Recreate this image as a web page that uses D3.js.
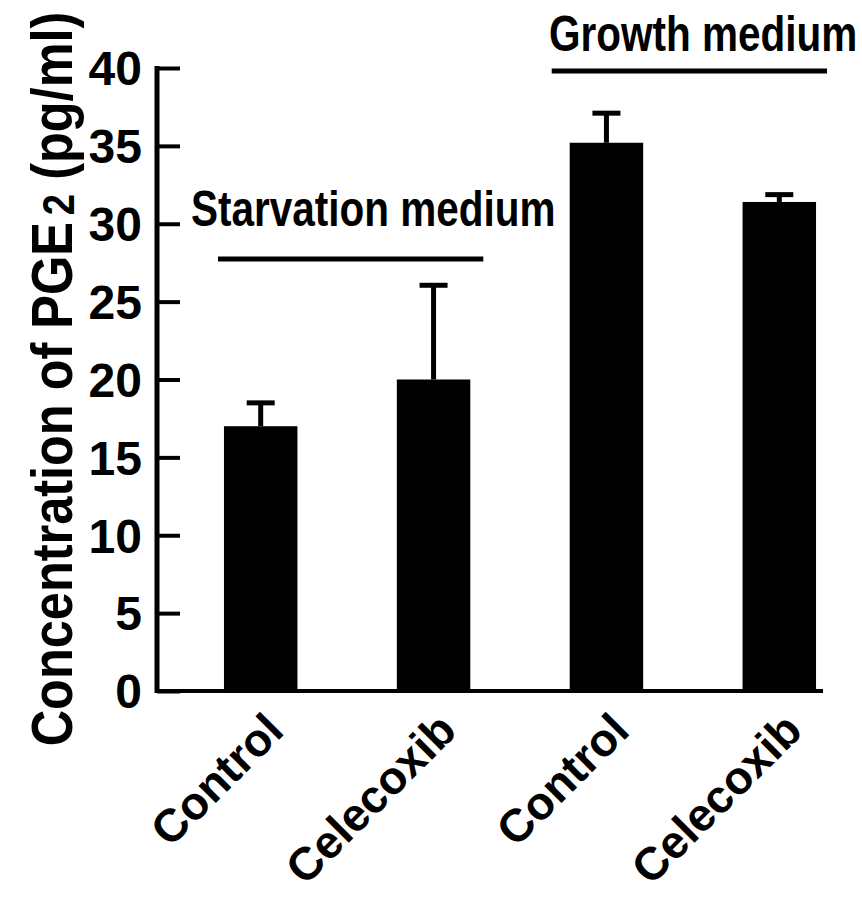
<!DOCTYPE html>
<html>
<head>
<meta charset="utf-8">
<script src="https://cdn.jsdelivr.net/npm/d3@7"></script>
<style>
  body { margin: 0; background: #fff; }
  text { font-family: "Liberation Sans", Arial, sans-serif; font-weight: bold; fill: #000; }
</style>
</head>
<body>
<div id="container"></div>
<script>
const categories = ["Control", "Celecoxib", "Control", "Celecoxib"];
const values = [17.0, 20.0, 35.2, 31.4];
const errors = [1.5, 6.05, 1.9, 0.47];
const yTicks = [0, 5, 10, 15, 20, 25, 30, 35, 40];
const groupNames = ["Starvation medium", "Growth medium"];
const groupMembers = [[0, 1], [2, 3]];

const width = 862;
const height = 898;

const keys = categories.map((c, i) => i);

const x = d3.scaleBand()
  .domain(keys)
  .range([160, 880])
  .paddingInner(0.575)
  .paddingOuter(0.37);

const y = d3.scaleLinear()
  .domain([0, 40])
  .range([691, 68]);

const svg = d3.create("svg").attr("width", width).attr("height", height);

// bars
svg.append("g")
  .selectAll("rect")
  .data(values)
  .enter()
  .append("rect")
  .attr("x", (d, i) => x(i))
  .attr("y", (d) => y(d))
  .attr("width", x.bandwidth())
  .attr("height", (d) => y(0) - y(d))
  .attr("fill", "#000");

// error bars
const err = svg.append("g").attr("stroke", "#000").attr("stroke-width", 5);
values.forEach((v, i) => {
  const cx = x(i) + x.bandwidth() / 2;
  err.append("line")
    .attr("x1", cx).attr("x2", cx)
    .attr("y1", y(v)).attr("y2", y(v + errors[i]));
  err.append("line")
    .attr("x1", cx - 14).attr("x2", cx + 14)
    .attr("y1", y(v + errors[i])).attr("y2", y(v + errors[i]));
});

// y axis
const yAxis = svg.append("g")
  .attr("transform", "translate(157,0)")
  .call(d3.axisRight(y).tickValues(yTicks).tickSize(23).tickFormat(""));
yAxis.select(".domain").remove();
yAxis.selectAll(".tick line").attr("stroke", "#000").attr("stroke-width", 4);

svg.append("line")
  .attr("x1", 157).attr("x2", 157)
  .attr("y1", y(40) - 2).attr("y2", y(0) + 2)
  .attr("stroke", "#000").attr("stroke-width", 5);

yTicks.forEach((t) => {
  svg.append("text")
    .attr("x", 142)
    .attr("y", y(t))
    .attr("dy", "0.36em")
    .attr("text-anchor", "end")
    .attr("font-size", 48)
    .text(t);
});

// x axis line
svg.append("line")
  .attr("x1", 155).attr("x2", 823)
  .attr("y1", y(0)).attr("y2", y(0))
  .attr("stroke", "#000").attr("stroke-width", 4);

// category labels
categories.forEach((c, i) => {
  const cx = x(i) + x.bandwidth() / 2 + 25;
  svg.append("text")
    .attr("transform", `translate(${cx},733) rotate(-45)`)
    .attr("text-anchor", "end")
    .attr("font-size", 46)
    .text(c);
});

// group annotations
const groupLayout = [
  { lineY: 259, x0: -6, x1: 13, textX: 191, textY: 226 },
  { lineY: 71, x0: -18, x1: 11, textX: 549, textY: 51 }
];
groupNames.forEach((g, k) => {
  const m = groupMembers[k];
  const L = groupLayout[k];
  svg.append("line")
    .attr("x1", x(m[0]) + L.x0)
    .attr("x2", x(m[1]) + x.bandwidth() + L.x1)
    .attr("y1", L.lineY).attr("y2", L.lineY)
    .attr("stroke", "#000").attr("stroke-width", 5);
  svg.append("text")
    .attr("transform", `translate(${L.textX},${L.textY}) scale(0.81,1)`)
    .attr("font-size", 50)
    .text(g);
});

// y title
const title = svg.append("text")
  .attr("transform", "translate(72,379) rotate(-90) scale(0.87,1)")
  .attr("text-anchor", "middle")
  .attr("font-size", 58);
title.append("tspan").text("Concentration of PGE");
title.append("tspan").attr("font-size", 44).attr("dx", 8).attr("dy", 2).text("2");
title.append("tspan").attr("dy", -2).text(" (pg/ml)");

d3.select("#container").append(() => svg.node());
</script>
</body>
</html>
